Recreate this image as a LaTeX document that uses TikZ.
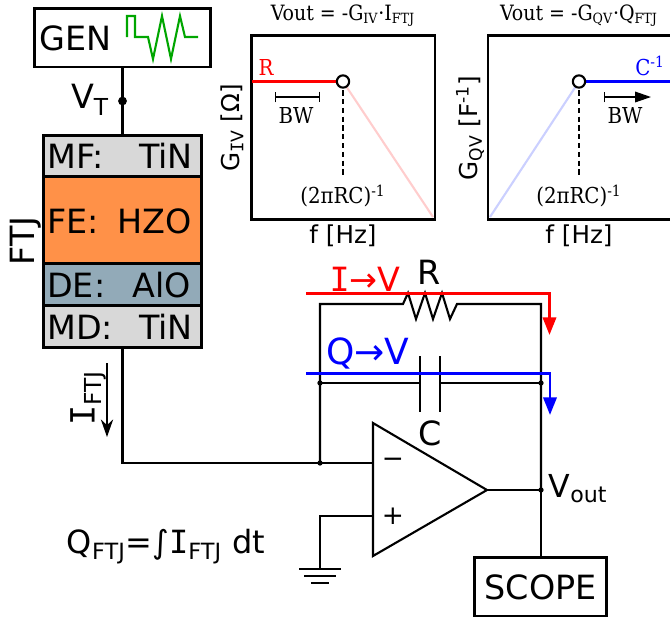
\documentclass[tikz,border=0pt]{standalone}
\usepackage{fontspec}
\usepackage{amsmath}
\setmainfont{DejaVu Sans}
\newfontfamily\plotfont{DejaVu Serif Condensed}
\newfontfamily\slabfont{DejaVu Sans Mono}
\newcommand{\slabI}{{\slabfont I}}
\usetikzlibrary{arrows.meta, positioning, shapes.geometric}
\definecolor{stackgray}{RGB}{216,216,216}
\definecolor{feorange}{RGB}{255,145,72}
\definecolor{deblue}{RGB}{146,170,184}
\definecolor{wavegreen}{RGB}{0,166,0}
\definecolor{fadered}{RGB}{255,205,205}
\definecolor{fadeblue}{RGB}{203,208,255}
\tikzset{
    wire/.style={line width=1.2pt, line cap=rect},
    frame/.style={draw, line width=1.6pt, inner sep=0pt, anchor=north west},
    junction/.style={circle, fill=black, inner sep=0pt, minimum size=#1},
    knee/.style={circle, draw, fill=white, line width=1.2pt, inner sep=0pt, minimum size=7pt},
    big/.style={font=\fontsize{19}{22}\selectfont},
    axistext/.style={font=\fontsize{14}{17}\selectfont},
    plottext/.style={font=\plotfont\fontsize{12.5}{15}\selectfont},
    titletext/.style={font=\plotfont\fontsize{12}{15}\selectfont},
    route/.style={line width=1.6pt, -{Triangle[length=10pt, width=7.5pt]}},
}
\begin{document}
\begin{tikzpicture}[x=0.02cm, y=-0.02cm]
    \useasboundingbox (0,0) rectangle (670,620);

    % Generator
    \node[frame, minimum width=100pt, minimum height=33.5pt] (gen) at (33.3,6.7) {};
    \node[big, right] (gentext) at (33,38) {GEN};
    \draw[wavegreen, line width=1.2pt] (127,37) -- (127,16) -- (135,16) -- (135,37) -- (148,37) -- (153,59)
        -- (162,16) -- (171,59) -- (180,16) -- (185,37) -- (198,37);

    % FTJ stack
    \node[frame, fill=stackgray, minimum width=90pt, minimum height=23.5pt] (mf) at (42,134) {};
    \node[frame, fill=feorange, minimum width=90pt, minimum height=49.6pt] (fe) at (42,175.3) {};
    \node[frame, fill=deblue, minimum width=90pt, minimum height=23.7pt] (de) at (42,262.6) {};
    \node[frame, fill=stackgray, minimum width=90pt, minimum height=23.8pt] (md) at (42,304.3) {};
    \node[big, right] at (41,156) {MF:};
    \node[big, left] at (199,156) {TiN};
    \node[big, right] at (41,221) {FE:};
    \node[big, left] at (198,221) {HZO};
    \node[big, right] at (41,285) {DE:};
    \node[big, left] at (197,285) {AlO};
    \node[big, right] at (41,327) {MD:};
    \node[big, left] at (199,327) {TiN};
    \node[big, rotate=90] (ftj) at (26,241) {FTJ};

    % Gate connection
    \draw[wire] (gen.south -| 122.5,0) -- (mf.north -| 122.5,0);
    \node[junction=5pt] (vt) at (122.5,101) {};
    \node[big] at (90,100) {V\textsubscript{T}};

    % Left plot
    \node[frame, minimum width=104.5pt, minimum height=104.5pt] (plotiv) at (250,34.3) {};
    \coordinate (pole1) at (343,81.5);
    \draw[fadered, line width=1.2pt] (pole1) -- (433,217);
    \draw[red, line width=1.6pt] (252,81.5) -- (pole1);
    \draw[densely dashed, line width=1.1pt] (pole1) -- (343,175);
    \node[knee] (knee1) at (pole1) {};
    \draw[{Bar[width=6pt]}-{Bar[width=6pt]}, line width=0.8pt] (275,97) -- (320,97);
    \node[plottext] at (296,115) {BW};
    \node[plottext, red] at (266,67) {R};
    \node[plottext] at (343,196) {(2πRC)\textsuperscript{-1}};
    \node[titletext] at (343,16) {Vout = -G\textsubscript{IV}·I\textsubscript{FTJ}};
    \node[axistext] at (343,236) {f [Hz]};
    \node[axistext, rotate=90] at (232,128) {G\textsubscript{\slabI V} [Ω]};

    % Right plot
    \draw[line width=1.6pt] (672,35.7) -- (488,35.7) -- (488,219.6) -- (672,219.6);
    \coordinate (pole2) at (579,81.5);
    \draw[fadeblue, line width=1.2pt] (490,217) -- (pole2);
    \draw[blue, line width=1.6pt] (pole2) -- (672,81.5);
    \draw[densely dashed, line width=1.1pt] (pole2) -- (579,175);
    \node[knee] (knee2) at (pole2) {};
    \draw[{Bar[width=6pt]}-{Triangle[length=9pt, width=6pt]}, line width=0.8pt] (604,97) -- (651,97);
    \node[plottext] at (625,115) {BW};
    \node[plottext, blue] at (650,66) {C\textsuperscript{-1}};
    \node[plottext] at (579,196) {(2πRC)\textsuperscript{-1}};
    \node[titletext] at (579,16) {Vout = -G\textsubscript{QV}·Q\textsubscript{FTJ}};
    \node[axistext] at (579,236) {f [Hz]};
    \node[axistext, rotate=90] at (470,128) {G\textsubscript{QV} [F\textsuperscript{-1}]};

    % Op amp
    \draw[wire, line join=miter] (373,423) coordinate (oatop) -- (487,490) coordinate (oaout) -- (373,556) coordinate (oabot) -- cycle;
    \coordinate (inminus) at (373,463);
    \coordinate (inplus) at (373,516);
    \node[axistext, font=\fontsize{15}{18}\selectfont] at (393,463) {−};
    \node[axistext, font=\fontsize{15}{18}\selectfont] at (393,516) {+};

    % Feedback network
    \node[junction=3pt] (jin) at (320,463) {};
    \node[junction=3pt] (jcl) at (320,383) {};
    \node[junction=3pt] (jcr) at (541,383) {};
    \node[junction=3pt] (jout) at (541,490) {};
    \node[frame, minimum width=74.8pt, minimum height=33.3pt] (scope) at (473.3,556) {};
    \node[big] at (540.5,587) {SCOPE};
    \draw[wire] (md.south -| 122.5,0) |- (inminus);
    \draw[wire] (oaout) -- (jout);
    \draw[wire] (jout) -- (scope.north -| jout);
    \draw[wire] (jin) -- (320,304) -- (403,304) -- (408,293) -- (416,319) -- (425,293) -- (433,319) -- (442,293) -- (450,319)
        -- (457,304) -- (541,304) -- (jout);
    \draw[wire] (jcl) -- (420,383) (440,383) -- (jcr);
    \draw[wire] (420,357) -- (420,411) (440,357) -- (440,411);
    \draw[wire] (inplus) -- (320,516) -- (320,569);
    \draw[wire] (300,569) -- (340,569) (305,576) -- (335,576) (312,583) -- (328,583);
    \node[big] at (429,272) {R};
    \node[big] at (430,433) {C};
    \node[big, font=\fontsize{18}{22}\selectfont] at (578,489) {V\textsubscript{out}};

    % Signal routes
    \draw[route, red] (306,293.5) -| (549.5,335);
    \draw[route, blue] (306,373.5) -| (550,415);
    \node[big, red] at (365,279) {\slabI→V};
    \node[big, blue, font=\fontsize{20.5}{24}\selectfont] at (368,353) {Q→V};

    % Current
    \draw[line width=1pt, -{Stealth[length=10pt, width=7pt]}] (107,363) -- (107,437);
    \node[big, rotate=90] at (88,398) {\slabI\textsubscript{FTJ}};
    \node[big, font=\fontsize{18.2}{22}\selectfont] at (166,547) {Q\textsubscript{FTJ}=∫\slabI\textsubscript{FTJ} dt};
\end{tikzpicture}
\end{document}
